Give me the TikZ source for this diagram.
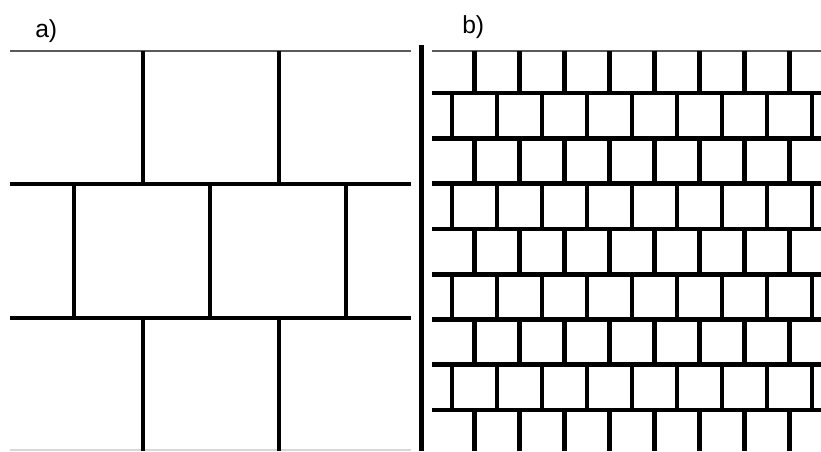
\documentclass[tikz,border=0pt]{standalone}
\usepackage{fontspec}
\setmainfont{Liberation Sans}
\usepackage{tikz}
\usetikzlibrary{positioning}
\definecolor{jointgrey}{HTML}{5A5A5A}
\definecolor{edgegrey}{HTML}{D8D8D8}

\begin{document}
\begin{tikzpicture}[x=0.75pt,y=-0.75pt,
    joint/.style={line width=3.5pt,black},
    topedge/.style={line width=1.1pt,jointgrey},
    lowedge/.style={line width=0.8pt,edgegrey},
    panellab/.style={anchor=base west,inner sep=0pt,font=\fontsize{18.5}{22}\selectfont}]
  \useasboundingbox (0,0) rectangle (821,451);
  % panel a: large blocks
  \node[panellab] (laba) at (35,37.5) {a)};
  \draw[topedge] (10,51) -- (411,51);
  \draw[lowedge] (10,450) -- (411,450);
  \foreach \y in {184,318}
    \draw[joint] (10,\y) -- (411,\y);
  \foreach \yt/\yb/\xs in {51/184/143, 184/318/74, 318/451/143} {
    \foreach \j in {0,1,2} {
      \pgfmathsetmacro\xx{\xs+136*\j}
      \ifdim\xx pt<400pt
        \draw[joint] (\xx,\yt) -- (\xx,\yb);
      \fi
    }
  }
  % divider
  \draw[line width=3.2pt] (421.5,45) -- (421.5,451);
  % panel b: small bricks
  \node[panellab] (labb) at (462,33) {b)};
  \draw[topedge] (432,51) -- (821,51);
  \foreach \k in {0,...,7}
    \draw[joint] (432,93+45.3*\k) -- (821,93+45.3*\k);
  \foreach \yt/\yb/\xs/\n in {
      51/93/474.5/7, 93/138.3/452/8, 138.3/183.6/474.5/7,
      183.6/228.9/452/8, 228.9/274.1/474.5/7, 274.1/319.4/452/8,
      319.4/364.7/474.5/7, 364.7/410/452/8, 410/451/474.5/7} {
    \foreach \j in {0,...,\n}
      \draw[joint] (\xs+45*\j,\yt) -- (\xs+45*\j,\yb);
  }
\end{tikzpicture}
\end{document}
